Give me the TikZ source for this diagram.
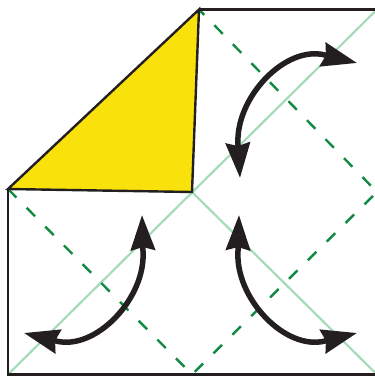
\documentclass[tikz,border=0pt]{standalone}
\usepackage{xcolor}
\usepackage{tikz}
\usetikzlibrary{arrows.meta,bending}
\definecolor{paperCol}{HTML}{231F20}
\definecolor{flapCol}{HTML}{F9E20B}
\definecolor{diagCol}{HTML}{A5DBB9}
\definecolor{valleyCol}{HTML}{138A43}
\definecolor{arrCol}{HTML}{231F20}
\tikzset{
  paperline/.style={draw=paperCol, line width=2.4pt},
  flap/.style={paperline, fill=flapCol},
  crease/.style={diagCol, line width=2.2pt},                                  % existing diagonal creases
  valley/.style={valleyCol, line width=2.4pt, dash pattern=on 12pt off 14.5pt}, % valley folds
  swing/.style={{Stealth[length=35pt,width=24pt,inset=3pt]}-{Stealth[length=35pt,width=24pt,inset=3pt]},
                arrCol, line width=5.5pt},
}

\begin{document}
\begin{tikzpicture}[x=1pt,y=-1pt]
  \useasboundingbox (0,0) rectangle (375,376);
  % paper corners and fold points
  \coordinate (bl)  at (8,374.5);
  \coordinate (br)  at (377,374.5);
  \coordinate (tr)  at (377,9.5);
  \coordinate (tm)  at (199,9.5);
  \coordinate (lm)  at (8,189);
  \coordinate (bm)  at (192,374.5);
  \coordinate (rm)  at (377,192);
  \coordinate (ctr) at (192,192);

  % creases
  \draw[crease] (bl) -- (tr);
  \draw[crease] (ctr) -- (br);
  \draw[valley] (lm) -- (bm) -- (rm) -- (tm);

  % paper with the folded corner
  \draw[paperline] (lm) -- (bl) -- (br) -- (tr) -- (tm);
  \draw[flap] (lm) -- (tm) -- (ctr) -- cycle;

  % arrows
  \coordinate (ne1) at (240,178); \coordinate (ne2) at (357,63);
  \coordinate (sw1) at (142,215); \coordinate (sw2) at (24,333);
  \coordinate (se1) at (239,215); \coordinate (se2) at (357,333);
  \draw[swing] (ne1) -- (238,145) .. controls (235,98) and (285,45) .. (325,55) -- (ne2);
  \draw[swing] (sw1) -- (143,251) .. controls (146,298) and (96,351) .. (56,341) -- (sw2);
  \draw[swing] (se1) -- (238,251) .. controls (235,298) and (285,351) .. (325,341) -- (se2);
\end{tikzpicture}
\end{document}
